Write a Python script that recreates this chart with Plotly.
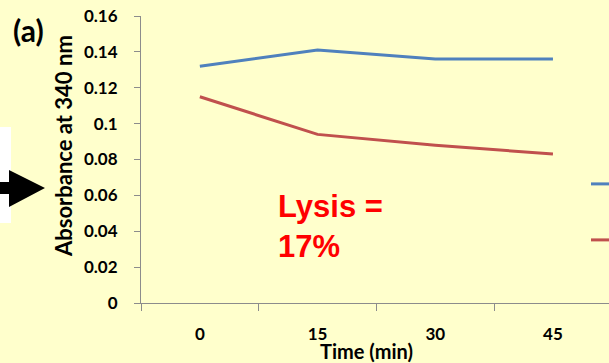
import plotly.graph_objects as go

# ---- data ----
time_labels = ["0", "15", "30", "45"]
series_a = [0.132, 0.141, 0.136, 0.136]
series_b = [0.115, 0.094, 0.088, 0.083]
name_a = "Control"
name_b = "Treated"
y_ticks = [0, 0.02, 0.04, 0.06, 0.08, 0.1, 0.12, 0.14, 0.16]

W, H = 609, 363
L, R, T, B = 141, 609, 16, 303  # plot area in pixels


def px(x):
    return (x - L) / (R - L)


def py(y):
    return (B - y) / (B - T)


BG = "#FFFFCC"
AX = "#8C8C8C"
FONT = "Lato"

fig = go.Figure()
fig.add_trace(go.Scatter(x=time_labels, y=series_a, mode="lines", name=name_a,
                         line=dict(color="#4F81BD", width=3), legend="legend"))
fig.add_trace(go.Scatter(x=time_labels, y=series_b, mode="lines", name=name_b,
                         line=dict(color="#C0504D", width=3), legend="legend2"))

cat_w = 117.7
fig.update_layout(
    width=W, height=H,
    margin=dict(l=L, r=W - R, t=T, b=H - B, pad=0, autoexpand=False),
    paper_bgcolor=BG, plot_bgcolor=BG,
    font=dict(family=FONT, size=16, color="black"),
    showlegend=True,
    legend=dict(x=px(586), y=py(184), xanchor="left", yanchor="middle",
                bgcolor="rgba(0,0,0,0)", font=dict(size=16, family=FONT)),
    legend2=dict(x=px(586), y=py(240), xanchor="left", yanchor="middle",
                 bgcolor="rgba(0,0,0,0)", font=dict(size=16, family=FONT)),
    xaxis=dict(type="category", range=[-0.5, -0.5 + (R - L) / cat_w],
               tickson="boundaries", ticks="outside", ticklen=7, tickcolor=AX,
               showline=True, linecolor=AX, linewidth=1, showgrid=False,
               zeroline=False, ticklabelstandoff=16, automargin=False,
               tickfont=dict(family=FONT, size=17, color="black", weight="bold")),
    yaxis=dict(range=[0, 0.16], tickvals=y_ticks, ticks="outside", ticklen=6,
               tickcolor=AX, showline=True, linecolor=AX, linewidth=1,
               showgrid=False, zeroline=False, ticklabelstandoff=13, automargin=False,
               tickfont=dict(family=FONT, size=17, color="black", weight="bold")),
)

annotations = [
    dict(text="<b>Time (min)</b>", x=px(366), y=py(351), xref="paper", yref="paper",
         xanchor="center", yanchor="middle", showarrow=False,
         font=dict(family=FONT, size=20, color="black")),
    dict(text="<b>Absorbance at 340 nm</b>", x=px(63), y=py(146), xref="paper", yref="paper",
         xanchor="center", yanchor="middle", showarrow=False, textangle=-90,
         font=dict(family=FONT, size=22, color="black")),
    dict(text="<b>(a)</b>", x=px(28), y=py(30), xref="paper", yref="paper",
         xanchor="center", yanchor="middle", showarrow=False,
         font=dict(family=FONT, size=30, color="black")),
    dict(text="<b>Lysis =<br>17%</b>", x=px(276), y=py(226), xref="paper", yref="paper",
         xanchor="left", yanchor="middle", showarrow=False, align="left",
         font=dict(family="Liberation Sans", size=31, color="#FF0000")),
]
fig.update_layout(annotations=annotations)

# decorative arrow and white box on the left edge
arrow_pts = [(0, 182), (9, 182), (9, 170), (45, 188), (9, 207), (9, 194), (0, 194)]
path = "M " + " L ".join(f"{px(x):.5f},{py(y):.5f}" for x, y in arrow_pts) + " Z"
fig.update_layout(shapes=[
    dict(type="rect", xref="paper", yref="paper", x0=px(-2), x1=px(11),
         y0=py(223), y1=py(127), fillcolor="white", line=dict(width=0), layer="above"),
    dict(type="path", xref="paper", yref="paper", path=path,
         fillcolor="black", line=dict(width=0), layer="above"),
])

fig.write_html(
    "out.html",
    config={"displayModeBar": False},
    post_script="document.body.style.margin='0';document.body.style.padding='0';"
                "document.body.style.overflow='hidden';",
)
